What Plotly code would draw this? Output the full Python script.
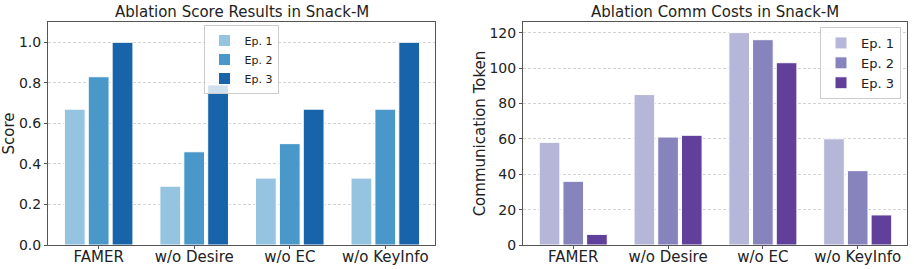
import plotly.graph_objects as go

categories = ["FAMER", "w/o Desire", "w/o EC", "w/o KeyInfo"]
episodes = ["Ep. 1", "Ep. 2", "Ep. 3"]
score_ep1 = [0.67, 0.29, 0.33, 0.33]
score_ep2 = [0.83, 0.46, 0.50, 0.67]
score_ep3 = [1.00, 0.79, 0.67, 1.00]
cost_ep1 = [58, 85, 120, 60]
cost_ep2 = [36, 61, 116, 42]
cost_ep3 = [6, 62, 103, 17]
y_ticks_score = [0.0, 0.2, 0.4, 0.6, 0.8, 1.0]
y_ticks_cost = [0, 20, 40, 60, 80, 100, 120]

blues = ["#94c4df", "#4a98c9", "#1764ab"]
purples = ["#b6b6d8", "#8683bd", "#61409b"]

FONT = "DejaVu Sans"
fig = go.Figure()

for name, vals, col in zip(episodes, [score_ep1, score_ep2, score_ep3], blues):
    fig.add_trace(go.Bar(x=categories, y=vals, name=name, marker=dict(color=col, line=dict(color="white", width=1)),
                         xaxis="x", yaxis="y", legend="legend", offsetgroup=name))
for name, vals, col in zip(episodes, [cost_ep1, cost_ep2, cost_ep3], purples):
    fig.add_trace(go.Bar(x=categories, y=vals, name=name, marker=dict(color=col, line=dict(color="white", width=1)),
                         xaxis="x2", yaxis="y2", legend="legend2", offsetgroup=name))

frame = dict(showline=True, linecolor="#555555", linewidth=1, mirror=True, ticks="outside", ticklen=3,
             tickcolor="#555555", zeroline=False, automargin=False)

H = 269
fig.update_layout(
    width=914, height=H,
    margin=dict(l=0, r=0, t=0, b=0),
    paper_bgcolor="white", plot_bgcolor="white",
    font=dict(family=FONT, color="#222222"),
    barmode="group", bargap=0.25, bargroupgap=0.13,
    xaxis=dict(domain=[48 / 914, 435 / 914], anchor="y", range=[-0.53, 3.52], showgrid=False,
               tickfont=dict(size=15), ticklabelstandoff=-5, **frame),
    yaxis=dict(domain=[24 / H, 247 / H], anchor="x", range=[0, 1.1], tickvals=y_ticks_score,
               ticktext=[f"{v:.1f}" for v in y_ticks_score], tickfont=dict(size=14),
               showgrid=True, gridcolor="#d3d3d3", griddash="3px,2px", gridwidth=0.8,
               title=dict(text="Score", font=dict(size=15), standoff=0), **frame),
    xaxis2=dict(domain=[523 / 914, 907 / 914], anchor="y2", range=[-0.53, 3.52], showgrid=False,
                tickfont=dict(size=15), ticklabelstandoff=-5, **frame),
    yaxis2=dict(domain=[24 / H, 247 / H], anchor="x2", range=[0, 126], tickvals=y_ticks_cost,
                tickfont=dict(size=14),
                showgrid=True, gridcolor="#d3d3d3", griddash="3px,2px", gridwidth=0.8,
                title=dict(text="Communication Token", font=dict(size=15), standoff=0), **frame),
    legend=dict(x=241 / 914, y=1 - 25 / H, xanchor="center", yanchor="top", bgcolor="rgba(255,255,255,0.8)",
                bordercolor="#cccccc", borderwidth=1, font=dict(size=11), tracegroupgap=0),
    legend2=dict(x=901 / 914, y=1 - 27 / H, xanchor="right", yanchor="top", bgcolor="rgba(255,255,255,0.85)",
                 bordercolor="#cccccc", borderwidth=1, font=dict(size=13), tracegroupgap=0),
    annotations=[
        dict(text="Ablation Score Results in Snack-M", x=241.5 / 914, y=1 - 12 / H, xref="paper", yref="paper",
             xanchor="center", yanchor="middle", showarrow=False, font=dict(size=15)),
        dict(text="Ablation Comm Costs in Snack-M", x=715 / 914, y=1 - 12 / H, xref="paper", yref="paper",
             xanchor="center", yanchor="middle", showarrow=False, font=dict(size=15)),
    ],
)

fig.write_html("out.html", config={"displayModeBar": False},
               post_script="document.body.style.margin='0';document.body.style.overflow='hidden';")
